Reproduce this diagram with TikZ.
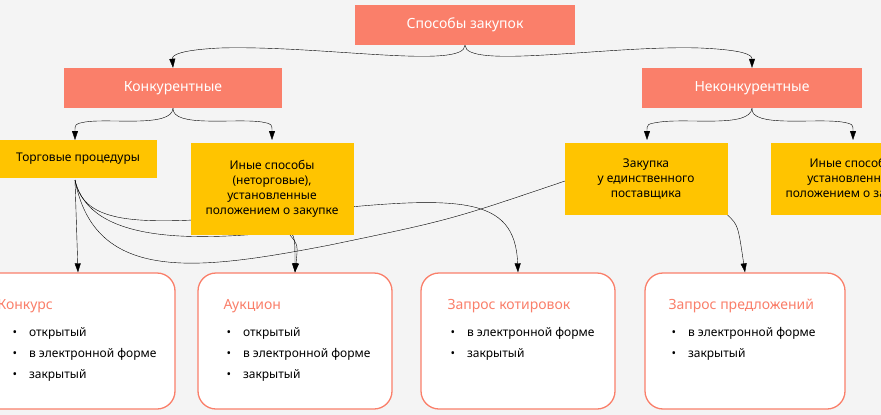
\documentclass[tikz,border=0pt]{standalone}
\usepackage{fontspec}
\setmainfont{Noto Sans}
\usetikzlibrary{arrows.meta,positioning,calc}
\definecolor{salmon}{HTML}{FA7F6A}
\definecolor{gold}{HTML}{FFC400}
\definecolor{bg}{HTML}{F4F4F4}
\tikzset{
  head/.style={fill=salmon,text=white,minimum height=40pt,font=\fontsize{14}{16}\selectfont},
  kind/.style={fill=gold,align=center,font=\fontsize{12}{15}\selectfont},
  card/.style={draw=salmon,line width=1.3pt,fill=white,rounded corners=18pt,minimum width=194pt,minimum height=136pt},
  link/.style={-{Triangle[length=9pt,width=6pt]},black,thin},
}
\newcommand{\cardtext}[4]{%
  \node[anchor=north west,text=salmon,font=\fontsize{14}{16}\selectfont] at (#1) {#2};
  \node[anchor=north west,align=left,font=\fontsize{12}{21}\selectfont] at ($(#1)+(#3pt,-28pt)$) {#4};}
\begin{document}
\begin{tikzpicture}[x=1pt,y=-1pt]
  \useasboundingbox (0,0) rectangle (881,415);
  \clip (0,0) rectangle (881,415);
  \fill[bg] (0,0) rectangle (881,415);
  % headers
  \node[head,minimum width=220pt] (root) at (465,25) {Способы закупок};
  \node[head,minimum width=218pt] (comp) at (173,88) {Конкурентные};
  \node[head,minimum width=220pt] (ncomp) at (752,88) {Неконкурентные};
  % braces
  \draw[link] (root.south) .. controls (465,70) and (320,45) .. (220,48)
    .. controls (180,50) and (172,55) .. (comp.north);
  \draw[link] (root.south) .. controls (465,70) and (610,45) .. (700,48)
    .. controls (745,50) and (752,55) .. (ncomp.north);
  \coordinate (tl) at (75,140);
  \coordinate (tr) at (272,140);
  \draw[link] (comp.south) .. controls (172,128) and (110,118) .. (85,122) .. controls (75,124) .. (tl);
  \draw[link] (comp.south) .. controls (172,128) and (235,118) .. (262,122) .. controls (272,124) .. (tr);
  \coordinate (ml) at (647,140);
  \coordinate (mr) at (853,140);
  \draw[link] (ncomp.south) .. controls (750,128) and (690,118) .. (660,122) .. controls (647,124) .. (ml);
  \draw[link] (ncomp.south) .. controls (750,128) and (815,118) .. (842,122) .. controls (853,124) .. (mr);
  % cards
  \node[card] (konk) at (78,341) {};
  \node[card] (auk) at (295,341) {};
  \node[card] (kot) at (518,341) {};
  \node[card,minimum width=200pt] (pred) at (745,341) {};
  % curves under the boxes
  \coordinate (trade) at (75,180);
  \draw[link] (trade) .. controls (85,230) and (150,225) .. (300,212)
    .. controls (460,195) and (515,195) .. (kot.north);
  \draw[link] (trade) .. controls (90,245) and (200,240) .. (280,232) .. controls (295,232) .. (auk.north);
  \coordinate (sole) at (565,181);
  \draw (trade) .. controls (95,285) and (200,270) .. (330,245) .. controls (450,220) .. (sole);
  \draw[link] (trade) -- (konk.north);
  % yellow boxes
  \node[kind,minimum width=157pt,minimum height=38pt] (tp) at (78,159) {Торговые процедуры};
  \node[kind,minimum width=163pt,minimum height=92pt] (other) at (272,189)
    {Иные способы\\(неторговые),\\установленные\\положением о закупке};
  \node[kind,minimum width=163pt,minimum height=72pt] (single) at (646,179)
    {Закупка\\у единственного\\поставщика};
  \node[kind,minimum width=163pt,minimum height=72pt] (other2) at (852,179)
    {Иные способы\\установленные\\положением о закупке};
  \draw[link] (290,235) .. controls (298,245) .. (auk.north);
  \draw[link] (single.south east) .. controls (738,225) .. (pred.north);
  % card texts
  \cardtext{-6,296}{Конкурс}{15}{•\quad открытый\\•\quad в электронной форме\\•\quad закрытый}
  \cardtext{220,296}{Аукцион}{3}{•\quad открытый\\•\quad в электронной форме\\•\quad закрытый}
  \cardtext{444,296}{Запрос котировок}{3}{•\quad в электронной форме\\•\quad закрытый}
  \cardtext{665,296}{Запрос предложений}{3}{•\quad в электронной форме\\•\quad закрытый}
\end{tikzpicture}
\end{document}
